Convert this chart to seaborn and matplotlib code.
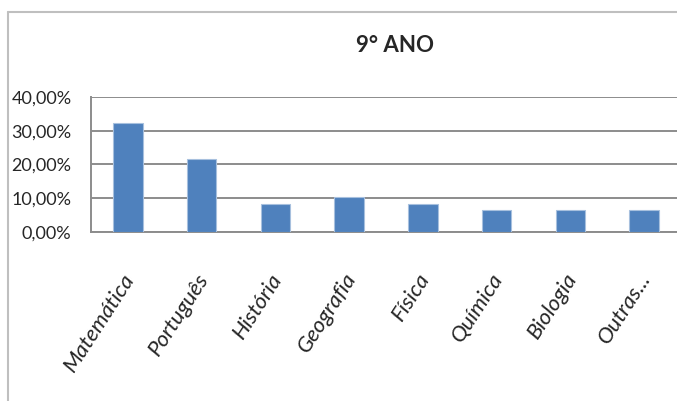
import matplotlib
matplotlib.use("Agg")
import matplotlib.pyplot as plt
import matplotlib.transforms as mtransforms
import seaborn as sns
import pandas as pd
from matplotlib.lines import Line2D

categories = ["Matemática", "Português", "História", "Geografia", "Física", "Química", "Biologia", "Outras..."]
values = [32.2, 21.5, 8.2, 10.5, 8.2, 6.4, 6.4, 6.4]
yticks = [0, 10, 20, 30, 40]
ytick_labels = ["0,00%", "10,00%", "20,00%", "30,00%", "40,00%"]
title = "9° ANO"

sns.set_style("white")
plt.rcParams['font.family'] = ["Lato", 'DejaVu Sans']

df = pd.DataFrame({"cat": categories, "val": values})

fig = plt.figure(figsize=(6.77, 4.01), dpi=100)
ax = fig.add_axes([91/677, (401-232)/401, 590/677, 135/401])
sns.barplot(data=df, x="cat", y="val", color="#4F81BD", width=0.4, saturation=1,
            edgecolor="#A7C0DE", linewidth=0.8, ax=ax, zorder=3)
ax.set_ylim(0, 40)
ax.set_xlim(-0.5, len(categories) - 0.5)
ax.set_yticks(yticks)
ax.set_yticklabels(ytick_labels, fontsize=13)
ax.set_xlabel("")
ax.set_ylabel("")
ax.yaxis.grid(True, color="#8C8C8C", linewidth=1.4, zorder=0)
ax.set_axisbelow(True)
for s in ["top", "right"]:
    ax.spines[s].set_visible(False)
for s in ["left", "bottom"]:
    ax.spines[s].set_color("#8C8C8C")
    ax.spines[s].set_linewidth(1.4)

# x ticks at category boundaries
ax.set_xticks([i + 0.5 for i in range(-1, len(categories))], minor=True)
ax.tick_params(axis="x", which="minor", length=7, width=1.4, color="#8C8C8C", direction="out")
ax.tick_params(axis="x", which="major", length=0, pad=27)
ax.tick_params(axis="y", length=6, width=1.4, color="#8C8C8C", direction="out", pad=8)
ax.set_xticks(range(len(categories)))
ax.set_xticklabels(categories, rotation=57, ha="right", va="top", rotation_mode="anchor",
                   fontsize=16, style="italic")
offset = mtransforms.ScaledTranslation(-6/100, 0, fig.dpi_scale_trans)
for lbl in ax.get_xticklabels():
    lbl.set_transform(lbl.get_transform() + offset)

fig.text(395/677, 1 - 45/401, title, ha="center", va="center", fontsize=16, fontweight="bold")

# chart frame
border = "#BFBFBF"
fig.add_artist(Line2D([8/677, 1.0], [1 - 12/401, 1 - 12/401], transform=fig.transFigure, color=border, lw=1.5))
fig.add_artist(Line2D([8/677, 8/677], [0, 1 - 12/401], transform=fig.transFigure, color=border, lw=1.5))

fig.savefig("out.png", dpi=100)
